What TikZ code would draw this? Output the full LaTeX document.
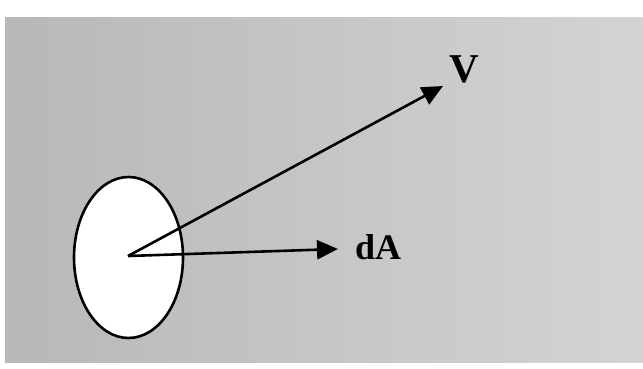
\documentclass[tikz,border=0pt]{standalone}
\usepackage{fontspec}
\setmainfont{Liberation Serif}
\usetikzlibrary{arrows.meta,shapes.geometric}
\definecolor{paperL}{gray}{0.72}
\definecolor{paperR}{gray}{0.83}
\tikzset{
  vec/.style={line width=2.6pt,-{Triangle[length=21pt,width=19pt]}},
  lbl/.style={inner sep=0pt,font=\bfseries},
  surf/.style={draw=black,line width=2.6pt,fill=white,ellipse,inner sep=0pt}
}
\begin{document}
\begin{tikzpicture}[x=1pt,y=-1pt]
\useasboundingbox (0,0) rectangle (643,368);
\fill[white] (0,0) rectangle (643,368);
\shade[left color=paperL,right color=paperR] (5,17) rectangle (643,362);
\node[surf,minimum width=109pt,minimum height=161pt] (S) at (128.5,257.5) {};
\coordinate (O) at (128,256);
\coordinate (tipV) at (443,86);
\coordinate (tipA) at (338,249);
\node[lbl,font=\bfseries\fontsize{41}{41}\selectfont,anchor=base west] (V) at (449,82) {V};
\node[lbl,font=\bfseries\fontsize{36}{36}\selectfont,anchor=base west] (dA) at (355,259) {dA};
\draw[vec] (O) -- (tipV);
\draw[vec] (O) -- (tipA);
\end{tikzpicture}
\end{document}
